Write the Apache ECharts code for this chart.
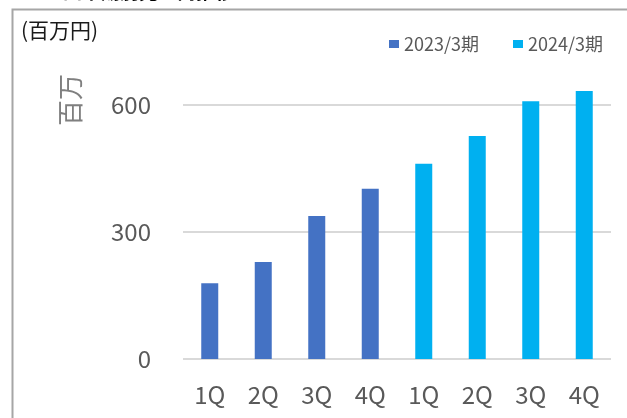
<!DOCTYPE html>
<html>
<head>
<meta charset="utf-8">
<script src="https://cdn.jsdelivr.net/npm/echarts@6/dist/echarts.min.js"></script>
<style>html,body{margin:0;padding:0;background:#fff;}#c{width:627px;height:418px;}</style>
</head>
<body>
<div id="c"></div>
<script>
var categories = ['1Q', '2Q', '3Q', '4Q', '1Q', '2Q', '3Q', '4Q'];
var seriesNames = ['2023/3期', '2024/3期'];
var fy2023 = [179, 229, 338, 402, null, null, null, null];
var fy2024 = [null, null, null, null, 461, 527, 609, 633];
var yTicks = [0, 300, 600];

var FONT = '"Noto Sans CJK JP", "Noto Sans", sans-serif';
var chart = echarts.init(document.getElementById('c'), null, {renderer: 'canvas'});
chart.setOption({
  backgroundColor: '#ffffff',
  animation: false,
  textStyle: {fontFamily: FONT},
  grid: {left: 183, right: 16, top: 105, bottom: 59, containLabel: false},
  legend: {
    left: 384, top: 30,
    itemWidth: 10, itemHeight: 8, itemGap: 34, itemStyle: {},
    icon: 'rect',
    textStyle: {fontSize: 18, color: '#595959', fontFamily: FONT},
    data: seriesNames
  },
  xAxis: {
    type: 'category',
    data: categories,
    axisLine: {show: false},
    axisTick: {show: false},
    axisLabel: {fontSize: 24, color: '#595959', margin: 24, fontFamily: FONT}
  },
  yAxis: {
    type: 'value',
    min: yTicks[0], max: yTicks[yTicks.length - 1], interval: 300,
    axisLine: {show: false},
    axisTick: {show: false},
    axisLabel: {fontSize: 24, color: '#595959', margin: 32, fontFamily: FONT},
    splitLine: {lineStyle: {color: '#d9d9d9', width: 2}}
  },
  series: [
    {name: seriesNames[0], type: 'bar', stack: 'a', barWidth: 17, clip: false,
     itemStyle: {color: '#4472C4'}, data: fy2023},
    {name: seriesNames[1], type: 'bar', stack: 'a', barWidth: 17, clip: false,
     itemStyle: {color: '#00B0F0'}, data: fy2024}
  ],
  graphic: [
    {type: 'rect', shape: {x: 12.5, y: 9.5, width: 700, height: 500},
     style: {fill: null, stroke: '#a6a6a6', lineWidth: 2}, z: 10},
    {type: 'text', x: 44, y: 1,
     style: {text: '【四半期別売上高推移】', font: 'bold 19px ' + FONT, fill: '#000', textVerticalAlign: 'bottom'}},
    {type: 'text', x: 21, y: 30,
     style: {text: '(百万円)', font: '21px ' + FONT, fill: '#1a1a1a', textVerticalAlign: 'middle'}},
    {type: 'text', x: 70, y: 100, rotation: Math.PI / 2,
     style: {text: '百万', font: '26px ' + FONT, fill: '#7f7f7f', textAlign: 'center', textVerticalAlign: 'middle'}}
  ]
});
</script>
</body>
</html>
